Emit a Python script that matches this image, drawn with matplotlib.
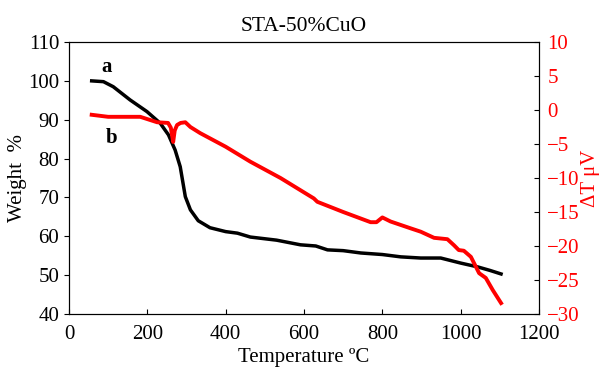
import numpy as np
import matplotlib.pyplot as plt

plt.rcParams['font.family'] = ['Liberation Serif', 'DejaVu Serif']

# weight curve (a)
temp_w = [58, 88, 113, 156, 199, 233, 254, 271, 284, 297, 310, 330, 360, 400, 430, 463,
          530, 591, 630, 660, 700, 745, 800, 847, 898, 949, 1000, 1044, 1075, 1103]
weight = [100.0, 99.8, 98.5, 95.1, 92.1, 89.1, 86.1, 82.2, 77.9, 70.2, 66.8, 64.0,
          62.2, 61.2, 60.8, 59.8, 59.0, 57.8, 57.5, 56.5, 56.3, 55.7, 55.3, 54.7, 54.4,
          54.4, 53.1, 52.1, 51.2, 50.3]

# DTA curve (b)
temp_d = [58, 100, 140, 182, 225, 253, 260, 266, 270, 276, 285, 297, 310, 335, 400, 463,
          540, 625, 634, 700, 770, 785, 800, 821, 872, 898, 932, 966, 983, 995, 1008,
          1026, 1047, 1064, 1082, 1103]
dta = [-0.7, -1.0, -1.0, -1.0, -1.8, -1.9, -2.6, -4.7, -3.0, -2.2, -1.9, -1.8, -2.5,
       -3.4, -5.4, -7.6, -10.0, -13.0, -13.5, -15.0, -16.5, -16.5, -15.8, -16.4, -17.4,
       -17.9, -18.8, -19.0, -19.9, -20.6, -20.7, -21.6, -24.0, -24.7, -26.5, -28.4]

fig, ax = plt.subplots(figsize=(6.05, 3.72), dpi=100)
fig.subplots_adjust(left=0.114, right=0.891, top=0.887, bottom=0.156)

ax.plot(temp_w, weight, color='black', lw=2.5)
ax.set_xlim(0, 1200)
ax.set_ylim(40, 110)
ax.set_xticks(np.arange(0, 1201, 200))
ax.set_yticks(np.arange(40, 111, 10))
ax.tick_params(axis='x', direction='in', labelsize=15, pad=8)
ax.tick_params(axis='y', direction='out', labelsize=15)
ax.set_xlabel('Temperature ºC', fontsize=15, labelpad=3)
ax.set_ylabel('Weight  %', fontsize=15, labelpad=1)
ax.set_title('STA-50%CuO', fontsize=15.5, pad=8)

ax.text(95, 103.6, 'a', fontsize=15, fontweight='bold', ha='center', va='center')
ax.text(108, 85.3, 'b', fontsize=15, fontweight='bold', ha='center', va='center')

ax2 = ax.twinx()
ax2.plot(temp_d, dta, color='red', lw=2.8)
ax2.set_ylim(-30, 10)
ax2.set_yticks(np.arange(-30, 11, 5))
ax2.tick_params(axis='y', direction='in', labelsize=15, labelcolor='red', pad=6)
ax2.set_ylabel('ΔT μV', fontsize=15, color='red', rotation=90, va='center', ha='center')
ax2.yaxis.set_label_coords(1.11, 0.5)

fig.savefig('out.png', dpi=100)
